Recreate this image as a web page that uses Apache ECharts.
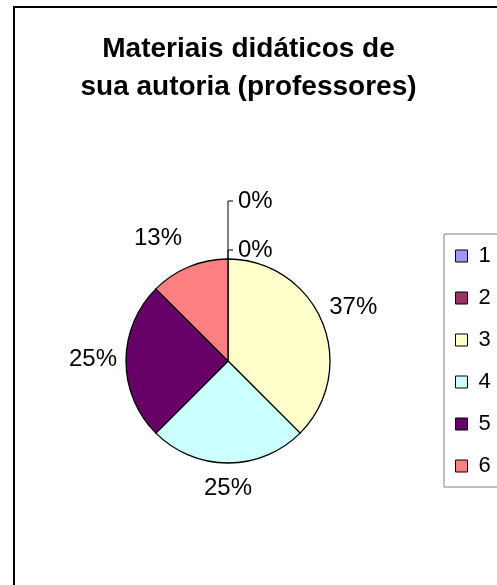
<!DOCTYPE html>
<html>

<head>
    <meta charset="UTF-8">
    <title>Materiais didáticos de sua autoria (professores)</title>
    <script src="https://cdn.jsdelivr.net/npm/echarts@6/dist/echarts.min.js"></script>
    <style>
        html, body { margin: 0; padding: 0; background: #fff; }
        #main { width: 497px; height: 585px; }
    </style>
</head>

<body>
    <div id="main"></div>

    <script>
        // categorias e valores (percentagens)
        var categories = ['1', '2', '3', '4', '5', '6'];
        var values = [0, 0, 37.5, 25, 25, 12.5];
        var pctLabels = ['0%', '0%', '37%', '25%', '25%', '13%'];

        var colors = ['#9999FF', '#993366', '#FFFFCC', '#CCFFFF', '#660066', '#FF8080'];
        var font = "'Liberation Sans', Arial, sans-serif";

        // linhas de chamada dos dois 0% e deslocamento dos outros rotulos
        var leader = { 0: [58, 5], 1: [9, 5] };
        var labelShift = [[0, 0], [0, 0], [2, -15], [0, 0], [-4, -2], [-2, -28]];

        var myChart = echarts.init(document.getElementById('main'), null, { renderer: 'canvas' });

        var pieData = categories.map(function (c, i) {
            var item = { name: c, value: values[i], itemStyle: { color: colors[i] } };
            if (leader[i]) {
                item.labelLine = { show: true, length: leader[i][0], length2: leader[i][1] };
            }
            return item;
        });

        var option = {
            animation: false,
            backgroundColor: '#fff',
            title: {
                text: 'Materiais didáticos de\nsua autoria (professores)',
                left: 'center',
                top: 25,
                textStyle: {
                    fontFamily: font,
                    fontSize: 28,
                    fontWeight: 'bold',
                    lineHeight: 38,
                    color: '#000'
                }
            },
            legend: {
                orient: 'vertical',
                left: 444,
                top: 234,
                padding: [11, 30, 10, 11],
                itemGap: 20,
                itemWidth: 12,
                itemHeight: 12,
                icon: 'rect',
                borderColor: '#808080',
                borderWidth: 1,
                backgroundColor: '#fff',
                itemStyle: { borderColor: '#000', borderWidth: 1 },
                textStyle: {
                    fontFamily: font,
                    fontSize: 22,
                    color: '#000',
                    padding: [0, 0, 0, 6]
                },
                data: categories
            },
            graphic: [{
                type: 'rect',
                shape: { x: 14, y: 7, width: 700, height: 800 },
                style: { fill: 'none', stroke: '#000', lineWidth: 2 },
                silent: true
            }],
            series: [{
                type: 'pie',
                center: [228, 361],
                radius: 102,
                startAngle: 90,
                clockwise: true,
                avoidLabelOverlap: false,
                minShowLabelAngle: 0,
                silent: true,
                itemStyle: { borderColor: '#000', borderWidth: 1.3 },
                label: {
                    show: true,
                    position: 'outside',
                    fontFamily: font,
                    fontSize: 24,
                    color: '#000',
                    distanceToLabelLine: 5,
                    formatter: function (p) { return pctLabels[p.dataIndex]; }
                },
                labelLine: {
                    show: false,
                    length: 0,
                    length2: 0,
                    lineStyle: { color: '#000', width: 1 }
                },
                labelLayout: function (p) {
                    var i = p.dataIndex;
                    if (leader[i] && p.labelLinePoints) {
                        // os 0% ficam a direita da linha vertical
                        var pts = p.labelLinePoints;
                        var x2 = pts[1][0], y2 = pts[1][1];
                        var l2 = leader[i][1];
                        return {
                            x: x2 + l2 + 5, y: y2, align: 'left',
                            labelLinePoints: [pts[0], pts[1], [x2 + l2, y2]]
                        };
                    }
                    if (i === 3) {
                        // rotulo de baixo, centrado sob a fatia
                        return { x: p.rect.x + p.rect.width / 2, y: p.rect.y + p.rect.height + 25, align: 'center' };
                    }
                    var s = labelShift[i];
                    return { dx: s[0], dy: s[1] };
                },
                data: pieData
            }]
        };

        myChart.setOption(option);
    </script>
</body>

</html>
